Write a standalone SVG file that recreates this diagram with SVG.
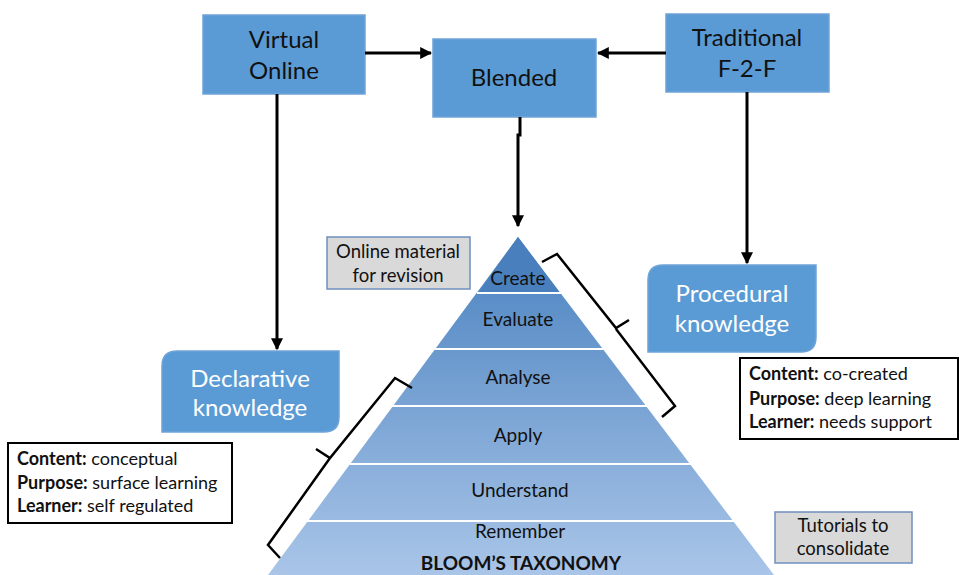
<svg xmlns="http://www.w3.org/2000/svg" width="959" height="575" viewBox="0 0 959 575">
<defs>
<marker id="ah" viewBox="0 0 10 10" refX="9" refY="5" markerWidth="4" markerHeight="4" orient="auto" markerUnits="strokeWidth">
<path d="M0,0 L10,5 L0,10 z" fill="#000"/>
</marker>
<linearGradient id="pg" x1="0" y1="237" x2="0" y2="575" gradientUnits="userSpaceOnUse">
<stop offset="0" stop-color="#4a82c0"/>
<stop offset="1" stop-color="#a9c5e8"/>
</linearGradient>
<style>
text{font-family:Lato,"Open Sans","Liberation Sans",sans-serif;}
.box{fill:#5b9bd5;stroke:#6fa4d8;stroke-width:1.5;}
.bt{font-size:24px;fill:#111;text-anchor:middle;}
.wt{font-size:24px;fill:#fff;text-anchor:middle;}
.pt{font-size:19px;fill:#111;text-anchor:middle;}
.info{fill:#fff;stroke:#000;stroke-width:2;}
.it{font-size:18px;fill:#111;}
.it tspan.b{font-weight:bold;}
.gray{fill:#d9d9d9;stroke:#6f8fbf;stroke-width:1.5;}
.gt{font-size:18.5px;fill:#111;text-anchor:middle;}
.conn{stroke:#000;stroke-width:3;fill:none;}
.brace{stroke:#000;stroke-width:2.5;fill:none;stroke-linejoin:miter;}
.sep{stroke:#fff;stroke-width:2;}
</style>
</defs>
<rect width="959" height="575" fill="#fff"/>

<g id="pyramid">
<polygon points="518,237 268,575 774,575" fill="url(#pg)"/>
<polygon points="518,237 478,293 560,293" fill="#4a7fbd"/>
<line class="sep" x1="477" y1="293" x2="561" y2="293"/>
<line class="sep" x1="435" y1="349" x2="603" y2="349"/>
<line class="sep" x1="392" y1="406" x2="647" y2="406"/>
<line class="sep" x1="350" y1="464" x2="691" y2="464"/>
<line class="sep" x1="307" y1="521" x2="734" y2="521"/>
<text class="pt" x="518" y="285">Create</text>
<text class="pt" x="518" y="326">Evaluate</text>
<text class="pt" x="518" y="384">Analyse</text>
<text class="pt" x="518" y="442">Apply</text>
<text class="pt" x="520" y="497">Understand</text>
<text class="pt" x="520" y="538">Remember</text>
<text class="pt" x="521" y="570" font-weight="bold" font-size="20">BLOOM’S TAXONOMY</text>
</g>

<g id="virtual">
<rect class="box" x="203" y="15" width="162" height="79"/>
<text class="bt" x="284" y="48">Virtual</text>
<text class="bt" x="284" y="79">Online</text>
</g>
<g id="blended">
<rect class="box" x="433" y="39" width="163" height="78"/>
<text class="bt" x="514" y="86">Blended</text>
</g>
<g id="traditional">
<rect class="box" x="666" y="14" width="163" height="78"/>
<text class="bt" x="747" y="46">Traditional</text>
<text class="bt" x="747" y="77">F-2-F</text>
</g>
<g id="declarative">
<path class="box" d="M177,351 L339,351 L339,417 Q339,432 324,432 L162,432 L162,366 Q162,351 177,351 Z"/>
<text class="wt" x="250" y="387">Declarative</text>
<text class="wt" x="250" y="416">knowledge</text>
</g>
<g id="procedural">
<path class="box" d="M663,265 L816,265 L816,337 Q816,352 801,352 L648,352 L648,280 Q648,265 663,265 Z"/>
<text class="wt" x="732" y="302">Procedural</text>
<text class="wt" x="732" y="332">knowledge</text>
</g>
<g id="info-left">
<rect class="info" x="8" y="443" width="224" height="80"/>
<text class="it" x="17" y="465"><tspan class="b">Content:</tspan> conceptual</text>
<text class="it" x="17" y="489"><tspan class="b">Purpose:</tspan> surface learning</text>
<text class="it" x="17" y="512"><tspan class="b">Learner:</tspan> self regulated</text>
</g>
<g id="info-right">
<rect class="info" x="740" y="358" width="218" height="81"/>
<text class="it" x="749" y="380"><tspan class="b">Content:</tspan> co-created</text>
<text class="it" x="749" y="405"><tspan class="b">Purpose:</tspan> deep learning</text>
<text class="it" x="749" y="428"><tspan class="b">Learner:</tspan> needs support</text>
</g>
<g id="online-material">
<rect class="gray" x="327" y="237" width="143" height="52"/>
<text class="gt" x="398" y="258">Online material</text>
<text class="gt" x="398" y="282">for revision</text>
</g>
<g id="tutorials">
<rect class="gray" x="775" y="512" width="137" height="51"/>
<text class="gt" x="843" y="532">Tutorials to</text>
<text class="gt" x="843" y="555">consolidate</text>
</g>

<g id="connectors">
<line class="conn" x1="365" y1="53" x2="431" y2="53" marker-end="url(#ah)"/>
<line class="conn" x1="666" y1="53" x2="598" y2="53" marker-end="url(#ah)"/>
<path class="conn" d="M520,117 L520,135 L518,135 L518,226" marker-end="url(#ah)"/>
<line class="conn" x1="277" y1="94" x2="277" y2="349" marker-end="url(#ah)"/>
<line class="conn" x1="747" y1="92" x2="747" y2="263" marker-end="url(#ah)"/>
<path class="brace" d="M542,262 L557,254 L616,328 L629,320 M616,329 L675,406 L662,417"/>
<path class="brace" d="M412,388 L395,378 L330,458 L316,449 M330,458 L268,545 L280,558"/>
</g>
</svg>
